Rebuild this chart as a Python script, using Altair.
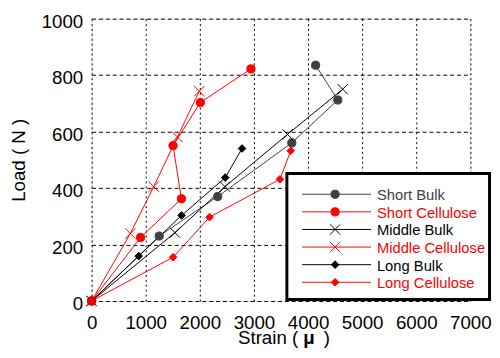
import altair as alt
import pandas as pd

# ---- data ----
series_names = ["Short Bulk", "Short Cellulose", "Middle Bulk",
                "Middle Cellulose", "Long Bulk", "Long Cellulose"]
series_colors = ["#404040", "#ff0000", "#000000", "#ff0000", "#000000", "#ff0000"]
series_shapes = ["circle", "circle", "x", "x", "diamond", "diamond"]

sb_x = [0, 1250, 2330, 3700, 4550, 4140]
sb_y = [0, 230, 370, 560, 712, 835]
sc_x = [0, 905, 1660, 1505, 2010, 2945]
sc_y = [0, 225, 362, 550, 703, 822]
mb_x = [0, 1540, 2465, 3620, 4640]
mb_y = [0, 242, 405, 590, 750]
mc_x = [0, 716, 1148, 1585, 1990]
mc_y = [0, 239, 405, 581, 743]
lb_x = [0, 870, 1663, 2470, 2780]
lb_y = [0, 159, 303, 437, 540]
lc_x = [0, 1506, 2180, 3480, 3680]
lc_y = [0, 155, 297, 431, 532]

x_ticks = [0, 1000, 2000, 3000, 4000, 5000, 6000, 7000]
y_ticks = [0, 200, 400, 600, 800, 1000]

x_title_parts = ["Strain (", "μ", ")"]

xs = [sb_x, sc_x, mb_x, mc_x, lb_x, lc_x]
ys = [sb_y, sc_y, mb_y, mc_y, lb_y, lc_y]

X_PATH = "M-1,-1L1,1M-1,1L1,-1"
shape_paths = {"circle": "circle", "x": X_PATH, "diamond": "diamond"}

rows = []
for name, col, shp, sx, sy in zip(series_names, series_colors, series_shapes, xs, ys):
    for i, (a, b) in enumerate(zip(sx, sy)):
        rows.append({"series": name, "i": i, "strain": a, "load": b,
                     "col": col, "shape": shape_paths[shp],
                     "fillc": "transparent" if shp == "x" else col,
                     "size": 110 if shp == "x" else (70 if shp == "circle" else 60)})
df = pd.DataFrame(rows)

leg = pd.DataFrame({"series": series_names, "col": series_colors,
                    "shape": [shape_paths[s] for s in series_shapes],
                    "fillc": ["transparent" if s == "x" else c for s, c in zip(series_shapes, series_colors)],
                    "size": [110 if s == "x" else (70 if s == "circle" else 60) for s in series_shapes],
                    "k": list(range(len(series_names)))})

font = "Liberation Sans"

xenc = alt.X("strain:Q", scale=alt.Scale(domain=[0, 7000], nice=False),
             axis=alt.Axis(values=x_ticks, title=None, format="d",
                           grid=True, gridColor="#000", gridDash=[2, 3], gridWidth=1,
                           ticks=False, labelPadding=13, labelOverlap=False,
                           labelFlush=False,
                           labelFont=font, labelFontSize=19, labelColor="#000",
                           domain=False))
yenc = alt.Y("load:Q", scale=alt.Scale(domain=[0, 1000], nice=False),
             axis=alt.Axis(values=y_ticks, title="Load ( N )", format="d",
                           grid=True, gridColor="#000", gridDash=[4, 3], gridWidth=1,
                           ticks=False, labelPadding=9, labelOverlap=False,
                           labelFlush=False, labelOffset=3,
                           labelFont=font, labelFontSize=19, labelColor="#000",
                           titleFont=font, titleFontSize=19, titleFontWeight="normal",
                           titleColor="#000", titlePadding=13, domain=False))

lines = alt.Chart(df).mark_line(strokeWidth=1, clip=False).encode(
    x=xenc, y=yenc,
    detail="series:N",
    order="i:Q",
    stroke=alt.Stroke("col:N", scale=None),
)

points = alt.Chart(df).mark_point(strokeWidth=1, opacity=1, clip=False).encode(
    x="strain:Q", y="load:Q",
    shape=alt.Shape("shape:N", scale=None),
    stroke=alt.Stroke("col:N", scale=None),
    fill=alt.Fill("fillc:N", scale=None),
    size=alt.Size("size:Q", scale=None),
)

# x-axis title in three pieces (bold mu)
TB = 331
tdf = pd.DataFrame({"t": [x_title_parts[0]]})
t1 = alt.Chart(tdf).mark_text(font=font, fontSize=19, baseline="alphabetic",
                              align="right", clip=False).encode(
    x=alt.value(210), y=alt.value(TB), text="t:N", color=alt.value("#000"))
t2 = alt.Chart(pd.DataFrame({"t": [x_title_parts[1]]})).mark_text(
    font=font, fontSize=19, fontWeight="bold", baseline="alphabetic",
    align="center", clip=False).encode(
    x=alt.value(221), y=alt.value(TB), text="t:N", color=alt.value("#000"))
t3 = alt.Chart(pd.DataFrame({"t": [x_title_parts[2]]})).mark_text(
    font=font, fontSize=19, baseline="alphabetic", align="left", clip=False).encode(
    x=alt.value(236), y=alt.value(TB), text="t:N", color=alt.value("#000"))

# legend (drawn inside the plot, pixel positions relative to plot area)
LX0, LX1, LY0, LY1 = 198.5, 404.5, 157.5, 285.5
ROW0, STEP = 178.5, 17.9
box = alt.Chart(pd.DataFrame({"a": [0]})).mark_rect(
    fill="white", stroke="#000", strokeWidth=3, clip=False).encode(
    x=alt.value(LX0), x2=alt.value(LX1), y=alt.value(LY0), y2=alt.value(LY1))

leg_base = alt.Chart(leg).transform_calculate(
    ly=f"{ROW0} + datum.k * {STEP}")
leg_lines = leg_base.mark_rule(strokeWidth=1, clip=False).encode(
    x=alt.value(214), x2=alt.value(284),
    y=alt.Y("ly:Q", scale=None),
    stroke=alt.Stroke("col:N", scale=None))
leg_pts = leg_base.mark_point(strokeWidth=1, opacity=1, clip=False).encode(
    x=alt.value(247.5),
    y=alt.Y("ly:Q", scale=None),
    shape=alt.Shape("shape:N", scale=None),
    stroke=alt.Stroke("col:N", scale=None),
    fill=alt.Fill("fillc:N", scale=None),
    size=alt.Size("size:Q", scale=None))
leg_text = leg_base.mark_text(align="left", baseline="middle", font=font,
                              fontSize=15, clip=False, dy=1).encode(
    x=alt.value(290),
    y=alt.Y("ly:Q", scale=None),
    text="series:N",
    color=alt.Color("col:N", scale=None))

chart = alt.layer(lines, points, box, leg_lines, leg_pts, leg_text, t1, t2, t3).properties(
    width=385, height=287,
    autosize=alt.AutoSizeParams(type="none"),
    padding={"left": 85, "top": 8, "right": 22, "bottom": 47},
).configure_view(stroke="#000", strokeWidth=1.5
).configure(background="white")

chart.save("out.html", embed_options={"renderer": "svg", "actions": False})
